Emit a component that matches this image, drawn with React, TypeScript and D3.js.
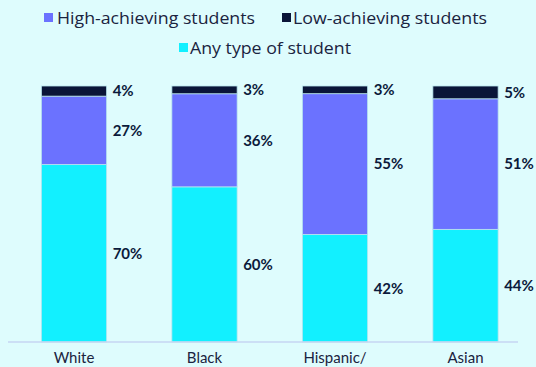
import React from "react";
import * as d3 from "d3";

const categories = ["White", "Black", "Hispanic/", "Asian"];
const anyType = [70, 60, 42, 44];
const highAchieving = [27, 36, 55, 51];
const lowAchieving = [4, 3, 3, 5];
const seriesKeys = ["any", "high", "low"];
const seriesNames = ["Any type of student", "High-achieving students", "Low-achieving students"];
const colors: Record<string, string> = { any: "#12F0FF", high: "#6B72FF", low: "#0A1538" };

const W = 536, H = 367;

export default function App() {
  const rows = categories.map((c, i) => ({ cat: c, any: anyType[i], high: highAchieving[i], low: lowAchieving[i] }));
  const stack = d3.stack<any>().keys(seriesKeys).offset(d3.stackOffsetExpand);
  const layers = stack(rows);
  const x = d3.scaleBand().domain(categories).range([8.75, 530.75]).paddingInner(0.5).paddingOuter(0.25);
  const y = d3.scaleLinear().domain([0, 1]).range([342, 86]);
  const font = "Lato, 'Open Sans', sans-serif";
  const legendFont = "'Open Sans', sans-serif";
  const textColor = "#0B1A3B";

  const legendItems = [
    { key: "high", x: 44, y: 13, tx: 57, ty: 23.5, len: 198 },
    { key: "low", x: 282, y: 13, tx: 293, ty: 23.5, len: 194 },
    { key: "any", x: 179, y: 43, tx: 190, ty: 53.5, len: 161 },
  ];
  return (
    <svg width={W} height={H} style={{ position: "absolute", left: 0, top: 0 }} fontFamily={font}>
      <rect x={0} y={0} width={W} height={H} fill="#DEFCFD" />
      {legendItems.map((l) => (
        <g key={l.key}>
          <rect x={l.x} y={l.y} width={9} height={9} fill={colors[l.key]} />
          <text
            x={l.tx}
            y={l.ty}
            fontSize={16.5}
            fontFamily={legendFont}
            fill="#1A2340"
            textLength={l.len}
            lengthAdjust="spacingAndGlyphs"
          >
            {seriesNames[seriesKeys.indexOf(l.key)]}
          </text>
        </g>
      ))}
      {layers.map((layer) => (
        <g key={layer.key}>
          {layer.map((d, i) => (
            <rect
              key={i}
              x={x(categories[i])!}
              y={y(d[1])}
              width={x.bandwidth()}
              height={y(d[0]) - y(d[1])}
              fill={colors[layer.key]}
              stroke="#B9E6EE"
              strokeWidth={0.8}
            />
          ))}
        </g>
      ))}
      {layers.map((layer) => (
        <g key={"l" + layer.key}>
          {layer.map((d, i) => (
            <text
              key={i}
              x={x(categories[i])! + x.bandwidth() + 6}
              y={(y(d[0]) + y(d[1])) / 2}
              dy="0.36em"
              fontSize={15}
              fontWeight={700}
              fill={textColor}
            >
              {(d.data as any)[layer.key as string]}%
            </text>
          ))}
        </g>
      ))}
      <line x1={8} x2={518} y1={342} y2={342} stroke="#C6D6F2" strokeWidth={1.5} />
      {categories.map((c) => (
        <text key={c} x={x(c)! + x.bandwidth() / 2} y={363} textAnchor="middle" fontSize={15} fill="#1A2340">
          {c}
        </text>
      ))}
    </svg>
  );
}
